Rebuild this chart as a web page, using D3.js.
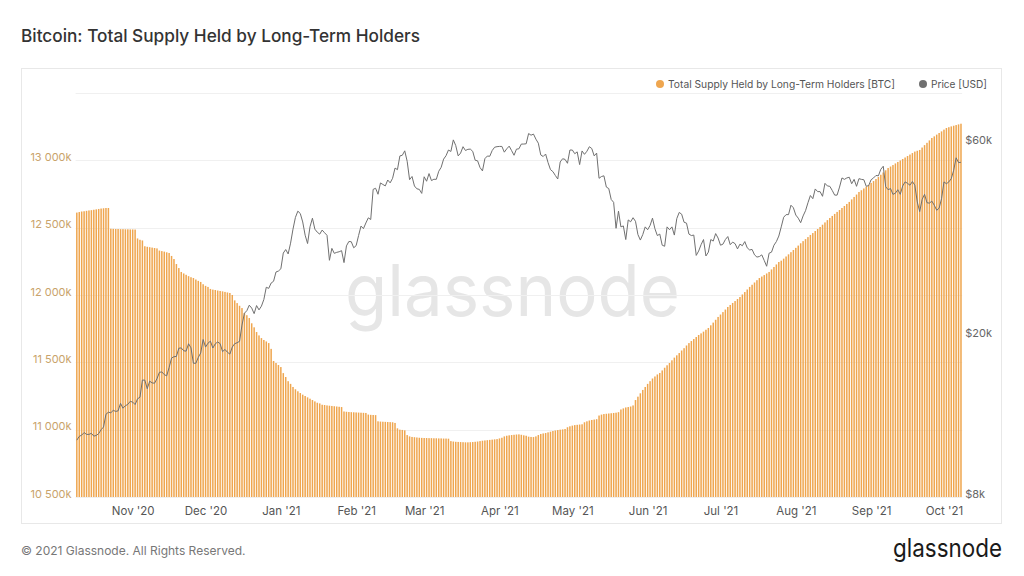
<!DOCTYPE html>
<html>
<head>
<meta charset="utf-8">
<script src="https://cdn.jsdelivr.net/npm/d3@7"></script>
<style>
  body { margin: 0; background: #fff; }
  svg { display: block; font-family: Inter, "Noto Sans", sans-serif; }
</style>
</head>
<body>
<svg id="chart" width="1024" height="576"></svg>
<script>
// daily values, first day is 2020-10-09
var startDate = Date.UTC(2020, 9, 9);

// Long-term holder supply, thousands of BTC, one array per month
var supplyOct20 = [12612,12616,12620,12622,12625,12628,12630,12633,12636,12639,12642,12644,12646,12646,
  12492,12491,12490,12490,12489,12489,12488,12488,12487];
var supplyNov20 = [12487,12486,12420,12410,12405,12362,12358,12355,12352,12349,12346,12330,12326,12322,12317,
  12312,12290,12267,12230,12200,12171,12160,12150,12140,12132,12126,12115,12105,12097,12080];
var supplyDec20 = [12068,12060,12045,12040,12037,12033,12030,12027,12023,12019,12015,12000,11960,11940,11920,
  11903,11866,11850,11829,11790,11760,11725,11700,11680,11666,11655,11643,11600,11510,11495,11480];
var supplyJan21 = [11465,11420,11391,11360,11340,11317,11300,11285,11272,11260,11250,11240,11230,11220,11210,
  11200,11195,11185,11183,11180,11178,11176,11174,11172,11170,11168,11135,11133,11131,11130,11129];
var supplyFeb21 = [11128,11127,11126,11125,11124,11112,11110,11109,11108,11062,11060,11059,11058,11057,11056,
  11055,11050,11010,11000,10998,10995,10960,10950,10946,10944,10942,10940,10939];
var supplyMar21 = [10938,10938,10937,10937,10936,10936,10935,10935,10934,10934,10933,10915,10912,10910,10909,
  10908,10907,10906,10906,10907,10908,10910,10912,10915,10918,10920,10922,10924,10926,10928,10930];
var supplyApr21 = [10935,10940,10950,10955,10958,10960,10962,10964,10965,10962,10958,10955,10948,10946,10945,
  10950,10960,10968,10972,10975,10980,10985,10990,10994,10997,11000,11002,11005,11018,11025];
var supplyMay21 = [11030,11034,11036,11038,11040,11055,11062,11068,11072,11075,11078,11105,11112,11116,11118,
  11120,11122,11124,11126,11130,11150,11158,11165,11168,11172,11180,11220,11245,11270,11295,11317];
var supplyJun21 = [11340,11360,11380,11395,11410,11421,11440,11460,11478,11495,11515,11535,11552,11569,11588,
  11605,11625,11643,11658,11673,11688,11703,11715,11728,11742,11755,11775,11795,11816,11837];
var supplyJul21 = [11855,11873,11892,11911,11926,11941,11955,11970,11985,12004,12022,12041,12060,12076,12093,
  12110,12126,12137,12148,12160,12171,12190,12208,12227,12245,12255,12270,12286,12302,12318,12334];
var supplyAug21 = [12350,12367,12384,12400,12415,12430,12446,12460,12475,12490,12505,12522,12539,12556,12572,
  12587,12602,12617,12631,12646,12661,12676,12691,12710,12728,12746,12765,12778,12791,12804,12817];
var supplySep21 = [12832,12846,12861,12876,12893,12910,12926,12943,12954,12965,12977,12988,12999,13010,13021,
  13032,13043,13054,13065,13071,13077,13095,13113,13130,13148,13166,13178,13191,13203,13215];
var supplyOct21 = [13228,13240,13246,13252,13257,13262,13267,13272];

// BTC price, thousands of USD
var priceOct20 = [11.06,11.30,11.38,11.55,11.43,11.43,11.50,11.32,11.36,11.48,11.74,11.92,12.82,12.97,12.93,
  13.11,13.03,13.07,13.64,13.27,13.46,13.56,13.80];
var priceNov20 = [13.74,13.55,14.00,14.13,15.58,15.57,14.83,15.48,15.33,15.30,15.70,16.28,16.32,16.07,15.96,
  16.73,17.66,17.80,17.82,18.68,18.71,18.41,18.37,19.16,18.72,17.15,17.14,17.72,18.18,19.63];
var priceDec20 = [18.80,19.22,19.45,18.70,19.15,19.36,19.17,18.32,18.55,18.26,18.06,18.80,19.17,19.27,19.43,
  21.31,22.80,23.14,23.87,23.48,22.75,23.82,23.24,23.74,24.66,26.44,26.27,27.08,27.36,28.84,29.00];
var priceJan21 = [29.37,32.13,32.78,31.97,33.99,36.82,39.37,40.80,40.25,38.36,35.57,33.92,37.32,39.19,36.82,
  36.18,35.79,36.63,36.07,35.55,30.83,33.00,32.08,32.26,32.37,32.57,30.43,33.47,34.32,34.27,33.11];
var priceFeb21 = [33.52,35.51,37.47,36.93,38.14,39.27,38.90,46.20,46.48,44.92,47.91,47.50,47.11,48.72,47.94,
  49.20,52.15,51.68,55.89,56.10,57.54,54.21,48.82,49.71,47.09,46.34,46.19,45.14];
var priceMar21 = [49.63,48.38,50.54,48.56,48.93,48.91,51.21,52.38,54.88,55.96,57.80,57.33,61.24,59.30,55.91,
  56.80,58.91,57.65,58.03,58.10,57.35,54.53,54.35,52.30,51.32,55.03,55.85,55.78,57.63,58.73,58.92];
var priceApr21 = [59.0,59.0,57.1,58.2,59.1,57.6,56.1,58.1,58.2,59.8,59.8,59.9,63.5,62.9,63.3,61.5,60.1,56.2,
  55.7,56.5,53.8,51.7,51.1,50.0,49.0,54.0,55.0,54.8,53.6,57.8];
var priceMay21 = [57.8,56.6,57.2,53.2,57.5,56.4,57.4,58.9,58.3,55.9,56.8,49.2,49.7,49.9,46.8,46.4,43.6,42.9,
  37.0,40.8,37.3,37.5,34.7,38.8,38.4,39.3,38.5,35.7,34.6,35.7,37.3];
var priceJun21 = [36.7,37.6,39.2,36.9,35.5,35.8,33.6,33.4,37.3,36.7,37.3,35.6,39.1,40.5,40.1,38.3,38.1,35.8,
  35.5,35.6,31.7,32.5,33.7,34.7,31.6,32.3,34.7,34.4,35.9,35.0];
var priceJul21 = [33.6,33.8,34.7,35.3,33.7,34.2,33.9,32.9,33.8,33.5,34.3,33.1,32.7,32.8,31.8,31.4,31.5,31.8,
  30.8,29.8,32.1,32.3,33.6,34.3,35.4,37.3,39.4,40.0,40.0,42.2,41.6];
var priceAug21 = [39.9,39.2,38.2,39.7,40.9,42.8,44.6,43.8,46.3,45.6,45.6,44.4,47.8,47.1,47.0,45.9,44.7,44.7,
  46.8,49.3,48.9,49.3,49.5,47.7,48.9,47.0,49.1,48.9,48.8,47.0,47.2];
var priceSep21 = [48.8,49.3,50.0,49.9,51.8,52.7,46.9,46.1,46.4,44.9,45.2,46.1,44.9,47.1,48.2,47.8,47.3,48.3,
  47.3,43.0,40.7,43.6,44.9,42.8,42.7,43.2,42.2,41.0,41.5,43.8];
var priceOct21 = [48.2,47.7,48.2,49.1,51.5,55.3,53.8,53.9];

var leftTicks = [10500, 11000, 11500, 12000, 12500, 13000, 13500];
var rightTicks = [8, 20, 60];

var supply = [].concat(supplyOct20, supplyNov20, supplyDec20, supplyJan21, supplyFeb21, supplyMar21,
  supplyApr21, supplyMay21, supplyJun21, supplyJul21, supplyAug21, supplySep21, supplyOct21);
var price = [].concat(priceOct20, priceNov20, priceDec20, priceJan21, priceFeb21, priceMar21,
  priceApr21, priceMay21, priceJun21, priceJul21, priceAug21, priceSep21, priceOct21);

var day = 86400000;
function dateOf(i) { return new Date(startDate + i * day); }

var orange = "#efa64f";
var plot = { left: 75.6, right: 962.2, top: 93, bottom: 497 };

var svg = d3.select("#chart");

var x = d3.scaleUtc()
  .domain([new Date(startDate - day / 2), new Date(startDate + (supply.length - 0.5) * day)])
  .range([plot.left, plot.right]);
var yLeft = d3.scaleLinear().domain([10500, 13500]).range([plot.bottom, plot.top]);
var yRight = d3.scaleLog().domain([8, 80]).range([plot.bottom, plot.top]);

// title
svg.append("text")
  .attr("x", 21).attr("y", 42)
  .attr("font-size", 17.2).attr("font-weight", 500).attr("fill", "#333")
  .attr("textLength", 399).attr("lengthAdjust", "spacingAndGlyphs")
  .text("Bitcoin: Total Supply Held by Long-Term Holders");

// frame
svg.append("rect")
  .attr("x", 21.5).attr("y", 68.5).attr("width", 980).attr("height", 455)
  .attr("fill", "none").attr("stroke", "#e8e8e8");

// watermark
svg.append("text")
  .attr("x", 345).attr("y", 316)
  .attr("font-size", 72).attr("fill", "#e6e6e6")
  .attr("textLength", 335).attr("lengthAdjust", "spacingAndGlyphs")
  .text("glassnode");

// grid lines
svg.append("g").selectAll("line")
  .data(leftTicks)
  .join("line")
  .attr("x1", plot.left).attr("x2", plot.right)
  .attr("y1", function(d) { return Math.round(yLeft(d)) + 0.5; })
  .attr("y2", function(d) { return Math.round(yLeft(d)) + 0.5; })
  .attr("stroke", "#f0f0f0");

// bars
var step = x(dateOf(1)) - x(dateOf(0));
var barW = step * 0.62;
svg.append("g").selectAll("rect")
  .data(supply)
  .join("rect")
  .attr("x", function(d, i) { return x(dateOf(i)) - barW / 2; })
  .attr("width", barW)
  .attr("y", function(d) { return yLeft(d); })
  .attr("height", function(d) { return plot.bottom - yLeft(d); })
  .attr("fill", orange);

// price line
var line = d3.line()
  .x(function(d, i) { return x(dateOf(i)); })
  .y(function(d) { return yRight(d); });
svg.append("path")
  .datum(price)
  .attr("d", line)
  .attr("fill", "none")
  .attr("stroke", "#707070")
  .attr("stroke-width", 1);

// left axis labels
var fmt = d3.formatLocale({ decimal: ".", thousands: " ", grouping: [3], currency: ["", ""] }).format(",");
svg.append("g")
  .attr("transform", "translate(" + (plot.left - 4) + ",0)")
  .call(d3.axisLeft(yLeft).tickValues(leftTicks.slice(0, -1)).tickSize(0).tickPadding(0)
    .tickFormat(function(d) { return fmt(d) + "k"; }))
  .call(function(g) {
    g.select(".domain").remove();
    g.selectAll("text").attr("dy", 0).attr("fill", "#c9a36b").attr("font-size", 11)
      .attr("font-family", "Inter, sans-serif");
  });

// right axis labels
svg.append("g")
  .attr("transform", "translate(" + (plot.right + 3) + ",0)")
  .call(d3.axisRight(yRight).tickValues(rightTicks).tickSize(0).tickPadding(0)
    .tickFormat(function(d) { return "$" + d + "k"; }))
  .call(function(g) {
    g.select(".domain").remove();
    g.selectAll("text").attr("dy", 0).attr("fill", "#666").attr("font-size", 11)
      .attr("font-family", "Inter, sans-serif");
  });

// x axis labels
svg.append("g")
  .attr("transform", "translate(0," + plot.bottom + ")")
  .call(d3.axisBottom(x).ticks(d3.utcMonth.every(1)).tickSize(0).tickPadding(10)
    .tickFormat(d3.utcFormat("%b '%y")))
  .call(function(g) {
    g.select(".domain").remove();
    g.selectAll(".tick").filter(function(d) { return d.getUTCMonth() === 9 && d.getUTCFullYear() === 2020; }).remove();
    g.selectAll("text").attr("fill", "#555").attr("font-size", 11.5)
      .attr("font-family", "Inter, sans-serif");
  });

// legend
var legend = [
  { label: "Total Supply Held by Long-Term Holders [BTC]", color: orange, x: 660, w: 227 },
  { label: "Price [USD]", color: "#707070", x: 923, w: 56 }
];
var lg = svg.append("g").selectAll("g").data(legend).join("g")
  .attr("transform", function(d) { return "translate(" + d.x + ",84)"; });
lg.append("circle").attr("r", 4).attr("fill", function(d) { return d.color; });
lg.append("text").attr("x", 8).attr("y", 4)
  .attr("font-size", 10.5).attr("fill", "#555")
  .attr("textLength", function(d) { return d.w; }).attr("lengthAdjust", "spacingAndGlyphs")
  .text(function(d) { return d.label; });

// footer
svg.append("text")
  .attr("x", 21).attr("y", 555)
  .attr("font-size", 12).attr("fill", "#777")
  .text("\u00a9 2021 Glassnode. All Rights Reserved.");
svg.append("text")
  .attr("x", 1002).attr("y", 557)
  .attr("text-anchor", "end")
  .attr("font-size", 25).attr("fill", "#1a1a1a")
  .attr("textLength", 109).attr("lengthAdjust", "spacingAndGlyphs")
  .text("glassnode");
</script>
</body>
</html>
